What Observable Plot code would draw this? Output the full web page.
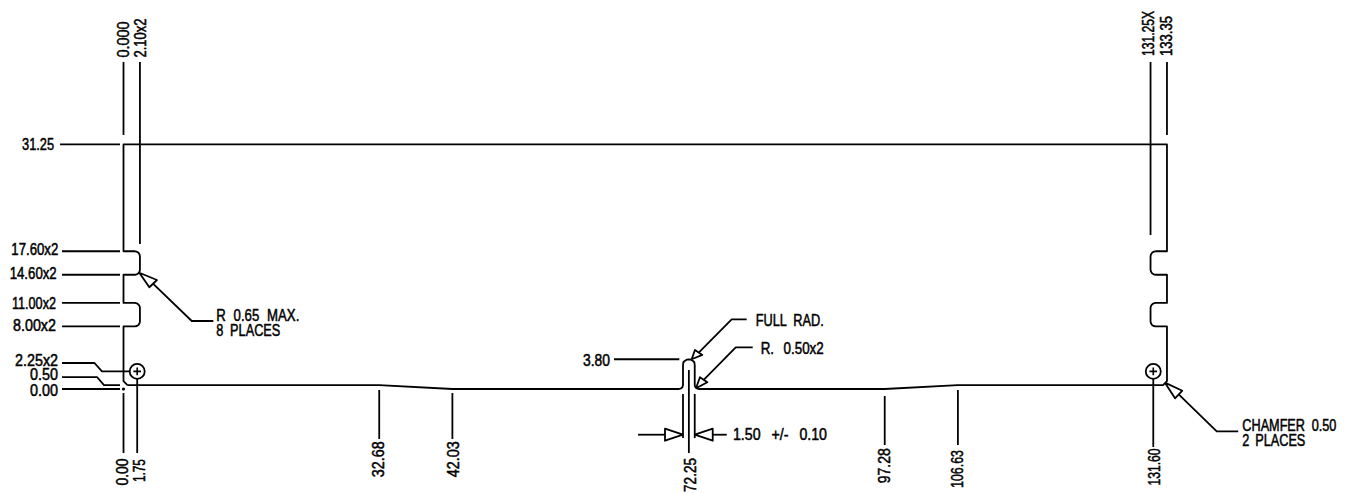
<!DOCTYPE html>
<html><head><meta charset="utf-8">
<script src="https://cdn.jsdelivr.net/npm/d3@7"></script>
<script src="https://cdn.jsdelivr.net/npm/@observablehq/plot@0.6"></script>
<style>html,body{margin:0;padding:0;background:#fff}svg{display:block}</style>
</head><body><div id="chart"></div>
<script>
// All values are millimetres.
const outlineMm = [
  [0.5,0.5],[32.68,0.5],[42.03,0],[71,0],[71.25,0.07],[71.43,0.25],[71.5,0.5],
  [71.5,3.05],[71.55,3.42],[71.72,3.58],[71.97,3.74],[72.25,3.8],[72.53,3.74],[72.78,3.58],[72.95,3.42],[73,3.05],
  [73,0.5],[73.07,0.25],[73.25,0.07],[73.5,0],[97.28,0],[106.63,0.5],[132.85,0.5],[133.35,1],
  [133.35,8],[131.9,8],[131.65,8.05],[131.44,8.19],[131.3,8.4],[131.25,8.65],
  [131.25,10.35],[131.3,10.6],[131.44,10.81],[131.65,10.95],[131.9,11],[133.35,11],
  [133.35,14.6],[131.9,14.6],[131.65,14.65],[131.44,14.79],[131.3,15],[131.25,15.25],
  [131.25,16.95],[131.3,17.2],[131.44,17.41],[131.65,17.55],[131.9,17.6],[133.35,17.6],
  [133.35,31.25],[0,31.25],[0,17.6],[1.45,17.6],[1.7,17.55],[1.91,17.41],[2.05,17.2],[2.1,16.95],
  [2.1,15.25],[2.05,15],[1.91,14.79],[1.7,14.65],[1.45,14.6],[0,14.6],
  [0,11],[1.45,11],[1.7,10.95],[1.91,10.81],[2.05,10.6],[2.1,10.35],
  [2.1,8.65],[2.05,8.4],[1.91,8.19],[1.7,8.05],[1.45,8],[0,8],[0,1],[0.5,0.5]
];
const verticalX = [0,2.1,131.25,133.35,0,1.75,32.68,42.03,97.28,106.63,131.6,72.25,71.5,73];
const verticalFrom = [41.79,41.79,41.79,41.79,-0.51,1.28,-0.13,-0.51,-0.89,-0.13,1.28,2.43,-0.64,-0.64];
const verticalTo = [32.46,18.53,19.68,32.46,-8.18,-8.18,-6.39,-6.39,-7.16,-7.16,-7.41,-8.18,-6.26,-6.26];
const horizontalY = [31.25,17.6,14.6,11,8,0,3.8,-5.84,-5.84];
const horizontalFrom = [-8.11,-7.86,-7.86,-7.86,-7.86,-7.86,62.68,65.76,75.3];
const horizontalTo = [-0.45,-0.45,-0.45,-0.45,-0.45,-0.45,71.03,69.2,77.09];
const leaders = [
  [[-7.86,3.32],[-3.71,3.32],[-2.75,2.25],[0.89,2.25]],
  [[-7.86,1.53],[-3.39,1.53],[-2.49,0.5],[-0.45,0.5]],
  [[3.77,13.47],[8.72,8.69],[11.48,8.69]],
  [[73.51,4.66],[77.72,8.91],[79.64,8.91]],
  [[74.15,1.18],[78.24,5.33],[80.41,5.33]],
  [[134.85,-0.7],[139.71,-5.41],[142.46,-5.41]]
];
const arrowheads = [
  [[2.02,14.86],[4.28,13.93],[3.3,13],[2.02,14.86]],
  [[72.61,3.8],[73.03,4.98],[73.97,4.35],[72.61,3.8]],
  [[73.16,0.09],[73.67,1.5],[74.61,0.86],[73.16,0.09]],
  [[133.09,0.81],[135.31,-0.22],[134.38,-1.19],[133.09,0.81]],
  [[71.5,-5.84],[69.2,-5.07],[69.2,-6.61],[71.5,-5.84]],
  [[73,-5.84],[75.3,-5.07],[75.3,-6.61],[73,-5.84]]
];
const holeX = [1.75,131.6];
const holeY = [2.25,2.25];
const topLabels = ["0.000","2.10x2","131.25X","133.35"];
const topLabelX = [0,2.24,131.1,133.35];
const topLabelY = [42.36,42.36,42.56,42.56];
const topLabelLength = [36,39,45,40];
const bottomLabels = ["0.00","1.75","32.68","42.03","72.25","97.28","106.63","131.60"];
const bottomLabelX = [-0.1,2.1,32.68,42.2,72.45,97.28,106.63,131.75];
const bottomLabelY = [-12.33,-11.9,-11.28,-11.28,-13.16,-12.05,-12.65,-12.33];
const bottomLabelLength = [27,23,36,36,34,35,38,37];
const leftLabels = ["31.25","17.60x2","14.60x2","11.00x2","8.00x2","2.25x2","0.50","0.00","3.80"];
const leftLabelX = [-8.88,-8.33,-8.54,-8.63,-8.63,-8.37,-8.37,-8.37,62.17];
const leftLabelY = [31.25,17.82,14.66,10.86,8.01,3.62,1.75,-0.22,3.64];
const leftLabelLength = [32,47,47,44,43,43,28,28,27];
const noteLabels = ["R 0.65 MAX.","8 PLACES","FULL RAD.","R. 0.50x2","1.50 +/- 0.10","CHAMFER 0.50","2 PLACES"];
const noteLabelX = [11.86,11.86,80.79,81.43,77.89,142.98,142.98];
const noteLabelY = [9.33,7.41,8.69,5.11,-5.88,-4.73,-6.65];
const noteLabelLength = [83,64,68,63,94,94,63];
const noteWordSpacing = [5,4,4,7,8,4,3];

const ink = "#000";
const fontFamily = "'Liberation Sans',sans-serif";
const lineStyle = {stroke: ink, strokeWidth: 1.8, strokeLinejoin: "round", strokeLinecap: "butt"};
const textStyle = {fill: ink, fontSize: 16, fontWeight: 400, stroke: ink, strokeWidth: 0.5};

const polyRows = (paths) => paths.flatMap((p, i) => p.map(([x, y]) => ({x, y, i})));

const plot = Plot.plot({
  width: 1350, height: 493,
  margin: 0,
  x: {domain: [-15.719, 156.804], range: [0, 1350], axis: null},
  y: {domain: [-13.354, 49.646], range: [493, 0], axis: null},
  style: {fontFamily, background: "#fff"},
  marks: [
    Plot.line(outlineMm, {x: d => d[0], y: d => d[1], ...lineStyle}),
    Plot.link(verticalX, {x1: d => d, x2: d => d, y1: (d, i) => verticalFrom[i], y2: (d, i) => verticalTo[i], ...lineStyle}),
    Plot.link(horizontalY, {y1: d => d, y2: d => d, x1: (d, i) => horizontalFrom[i], x2: (d, i) => horizontalTo[i], ...lineStyle}),
    Plot.line(polyRows(leaders), {x: "x", y: "y", z: "i", ...lineStyle}),
    Plot.line(polyRows(arrowheads), {x: "x", y: "y", z: "i", ...lineStyle, fill: "#fff"}),
    Plot.dot(holeX, {x: d => d, y: (d, i) => holeY[i], r: 7.5, stroke: ink, strokeWidth: 1.8, fill: "#fff"}),
    Plot.dot(holeX, {x: d => d, y: (d, i) => holeY[i], symbol: "plus", r: 2.6, stroke: ink, strokeWidth: 1.6}),
    Plot.dot([0], {x: d => d, y: () => 0, r: 1.6, fill: ink}),
    Plot.text(topLabels, {x: (d, i) => topLabelX[i], y: (d, i) => topLabelY[i], text: d => d, rotate: -90, textAnchor: "start", lineAnchor: "middle", ...textStyle}),
    Plot.text(bottomLabels, {x: (d, i) => bottomLabelX[i], y: (d, i) => bottomLabelY[i], text: d => d, rotate: -90, textAnchor: "start", lineAnchor: "middle", ...textStyle}),
    Plot.text(leftLabels, {x: (d, i) => leftLabelX[i], y: (d, i) => leftLabelY[i], text: d => d, textAnchor: "end", lineAnchor: "middle", ...textStyle}),
    Plot.text(noteLabels, {x: (d, i) => noteLabelX[i], y: (d, i) => noteLabelY[i], text: d => d, textAnchor: "start", lineAnchor: "middle", ...textStyle})
  ]
});
// The drawing uses a condensed lettering: fit each label to the length measured on the reference.
const allLengths = [...topLabelLength, ...bottomLabelLength, ...leftLabelLength, ...noteLabelLength];
const noteStart = allLengths.length - noteLabelLength.length;
plot.querySelectorAll("text").forEach((t, i) => {
  t.setAttribute("textLength", allLengths[i]);
  t.setAttribute("lengthAdjust", "spacingAndGlyphs");
  if (i >= noteStart) t.style.wordSpacing = noteWordSpacing[i - noteStart] + "px";
});
document.getElementById("chart").append(plot);
</script></body></html>
